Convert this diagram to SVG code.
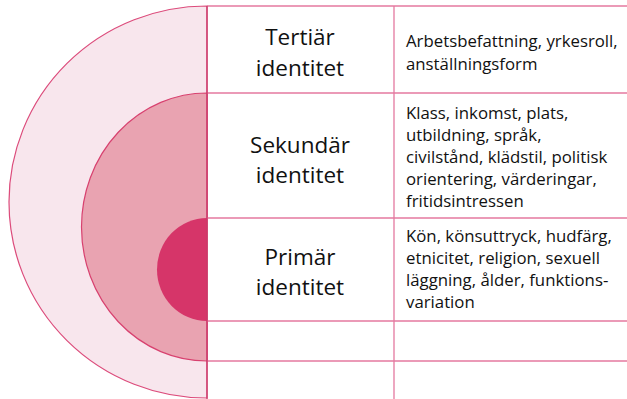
<svg xmlns="http://www.w3.org/2000/svg" width="627" height="399" viewBox="0 0 627 399">
<style>
.lbl{font-family:"Open Sans","Liberation Sans",sans-serif;font-size:22.5px;fill:#111;text-anchor:middle}
.txt{font-family:"Open Sans","Liberation Sans",sans-serif;font-size:16.8px;fill:#111}
.grid{stroke:#e4799f;stroke-width:1.3;fill:none}
</style>
<rect width="627" height="399" fill="#fff"/>
<g id="tertiary-ring"><path d="M207,6 A198,196 0 0 0 207,398 Z" fill="#f8e6ed" stroke="#dc4b7b" stroke-width="1.2"/></g>
<g id="secondary-ring"><path d="M207,93 A125.5,134 0 0 0 207,361 Z" fill="#e9a3b1" stroke="#d8416f" stroke-width="1.2"/></g>
<g id="primary-core"><path d="M207,218 A50,51.5 0 0 0 207,321 Z" fill="#d63569"/></g>
<g id="connectors">
<line class="grid" x1="207" y1="6" x2="627" y2="6"/>
<line class="grid" x1="207" y1="93" x2="627" y2="93"/>
<line class="grid" x1="207" y1="218" x2="627" y2="218"/>
<line class="grid" x1="207" y1="321" x2="627" y2="321"/>
<line class="grid" x1="207" y1="361" x2="627" y2="361"/>
<line class="grid" x1="394" y1="6" x2="394" y2="399"/>
<line x1="207" y1="6" x2="207" y2="399" stroke="#c93a6a" stroke-width="1.3"/>
</g>
<g id="tertiar">
<text class="lbl" x="300" y="45">Tertiär</text>
<text class="lbl" x="300" y="76">identitet</text>
<text class="txt" x="406" y="47">Arbetsbefattning, yrkesroll,</text>
<text class="txt" x="406" y="70">anställningsform</text>
</g>
<g id="sekundar">
<text class="lbl" x="300" y="153">Sekundär</text>
<text class="lbl" x="300" y="183">identitet</text>
<text class="txt" x="406" y="119">Klass, inkomst, plats,</text>
<text class="txt" x="406" y="141">utbildning, språk,</text>
<text class="txt" x="406" y="163">civilstånd, klädstil, politisk</text>
<text class="txt" x="406" y="185">orientering, värderingar,</text>
<text class="txt" x="406" y="207">fritidsintressen</text>
</g>
<g id="primar">
<text class="lbl" x="300" y="265">Primär</text>
<text class="lbl" x="300" y="295">identitet</text>
<text class="txt" x="406" y="242">Kön, könsuttryck, hudfärg,</text>
<text class="txt" x="406" y="264">etnicitet, religion, sexuell</text>
<text class="txt" x="406" y="286">läggning, ålder, funktions-</text>
<text class="txt" x="406" y="308">variation</text>
</g>
</svg>
